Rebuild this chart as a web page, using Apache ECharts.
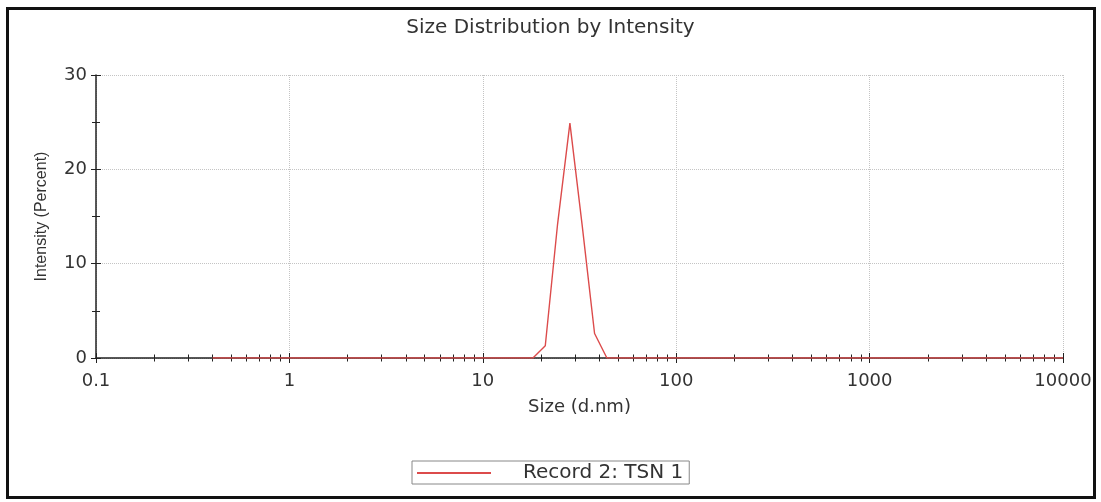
<!DOCTYPE html>
<html>
<head>
<meta charset="utf-8">
<script src="https://cdn.jsdelivr.net/npm/echarts@6/dist/echarts.min.js"></script>
<style>
    html, body { margin: 0; padding: 0; background: #fff; }
    #chart { width: 1101px; height: 502px; }
    #frame {
        position: absolute; left: 6px; top: 7px; width: 1090px; height: 492px;
        border: 3px solid #111; box-sizing: border-box; pointer-events: none;
    }
</style>
</head>
<body>
<div id="chart"></div>
<div id="frame"></div>
<script>
// size bins (d.nm)
var sizes = [
    0.4, 0.4632, 0.5365, 0.6213, 0.7195, 0.8332, 0.9649,
    1.117, 1.294, 1.499, 1.736, 2.01, 2.328, 2.696, 3.122, 3.615, 4.187, 4.849, 5.615, 6.503, 7.531, 8.721,
    10.1, 11.7, 13.54, 15.69, 18.17, 21.04, 24.36, 28.21, 32.67, 37.84, 43.82, 50.75, 58.77, 68.06, 78.82, 91.28,
    105.7, 122.4, 141.8, 164.2, 190.1, 220.2, 255, 295.3, 342, 396.1, 458.7, 531.2, 615.1, 712.4, 825, 955.4,
    1106, 1281, 1484, 1718, 1990, 2305, 2669, 3091, 3580, 4145, 4801, 5560, 6439, 7456, 8635, 10000
];
// intensity (percent) per bin
var intensity = [
    0, 0, 0, 0, 0, 0, 0,
    0, 0, 0, 0, 0, 0, 0, 0, 0, 0, 0, 0, 0, 0, 0,
    0, 0, 0, 0, 0, 1.3, 14.2, 24.9, 14.0, 2.6, 0, 0, 0, 0, 0, 0,
    0, 0, 0, 0, 0, 0, 0, 0, 0, 0, 0, 0, 0, 0, 0, 0,
    0, 0, 0, 0, 0, 0, 0, 0, 0, 0, 0, 0, 0, 0, 0, 0
];
var seriesName = 'Record 2: TSN 1';

var textColor = '#333';
var axisColor = '#222';
var gridColor = '#c4c4c4';
var lineColor = '#dc4b4b';

var data = sizes.map(function(s, i) { return [s, intensity[i]]; });

var myChart = echarts.init(document.getElementById('chart'));

var xCommon = {
    type: 'log',
    logBase: 10,
    min: 0.1,
    max: 10000,
    position: 'bottom'
};
var yCommon = {
    type: 'value',
    min: 0,
    max: 30,
    interval: 10,
    position: 'left'
};

myChart.setOption({
    animation: false,
    title: {
        text: 'Size Distribution by Intensity',
        left: 'center',
        top: 13,
        textStyle: {fontFamily: 'DejaVu Sans', fontSize: 20, fontWeight: 'normal', color: textColor}
    },
    grid: {left: 96, right: 38, top: 75, bottom: 144},
    legend: {
        left: 412,
        top: 461,
        data: [{name: seriesName, icon: 'rect'}],
        itemWidth: 74,
        itemHeight: 2,
        padding: [2, 6, 1, 5],
        borderColor: '#888',
        borderWidth: 1,
        textStyle: {fontFamily: 'DejaVu Sans', fontSize: 20, color: textColor, padding: [0, 0, 0, 27]}
    },
    xAxis: [
        Object.assign({}, xCommon, {
            name: 'Size (d.nm)',
            nameLocation: 'middle',
            nameGap: 40,
            nameTextStyle: {fontFamily: 'DejaVu Sans', fontSize: 18, color: textColor},
            axisLine: {lineStyle: {color: axisColor, width: 1.5}},
            axisTick: {length: 5, lineStyle: {color: axisColor}},
            minorTick: {show: true, splitNumber: 9, length: 3.5, lineStyle: {color: axisColor}},
            axisLabel: {
                fontFamily: 'DejaVu Sans', fontSize: 18, color: textColor, margin: 14,
                formatter: function(v) { return String(v); }
            },
            splitLine: {show: true, lineStyle: {color: gridColor, type: 'dotted', width: 1}}
        }),
        Object.assign({}, xCommon, {
            axisLine: {show: false},
            axisTick: {inside: true, length: 5, lineStyle: {color: axisColor}},
            minorTick: {show: true, splitNumber: 9, length: 3.5, lineStyle: {color: axisColor}},
            axisLabel: {show: false},
            splitLine: {show: false}
        })
    ],
    yAxis: [
        Object.assign({}, yCommon, {
            name: 'Intensity (Percent)',
            nameLocation: 'middle',
            nameGap: 46,
            nameTextStyle: {fontFamily: 'Liberation Sans', fontSize: 16, color: textColor},
            axisLine: {show: true, lineStyle: {color: axisColor, width: 1.5}},
            axisTick: {show: true, length: 5, lineStyle: {color: axisColor}},
            minorTick: {show: true, splitNumber: 2, length: 4, lineStyle: {color: axisColor}},
            axisLabel: {fontFamily: 'DejaVu Sans', fontSize: 18, color: textColor, margin: 9},
            splitLine: {show: true, lineStyle: {color: gridColor, type: 'dotted', width: 1}}
        }),
        Object.assign({}, yCommon, {
            axisLine: {show: false},
            axisTick: {show: true, inside: true, length: 5, lineStyle: {color: axisColor}},
            minorTick: {show: true, splitNumber: 2, length: 4, lineStyle: {color: axisColor}},
            axisLabel: {show: false},
            splitLine: {show: false}
        })
    ],
    series: [{
        name: seriesName,
        type: 'line',
        xAxisIndex: 0,
        yAxisIndex: 0,
        data: data,
        symbol: 'none',
        z: 5,
        lineStyle: {color: lineColor, width: 1.4},
        itemStyle: {color: lineColor}
    }]
});
</script>
</body>
</html>
